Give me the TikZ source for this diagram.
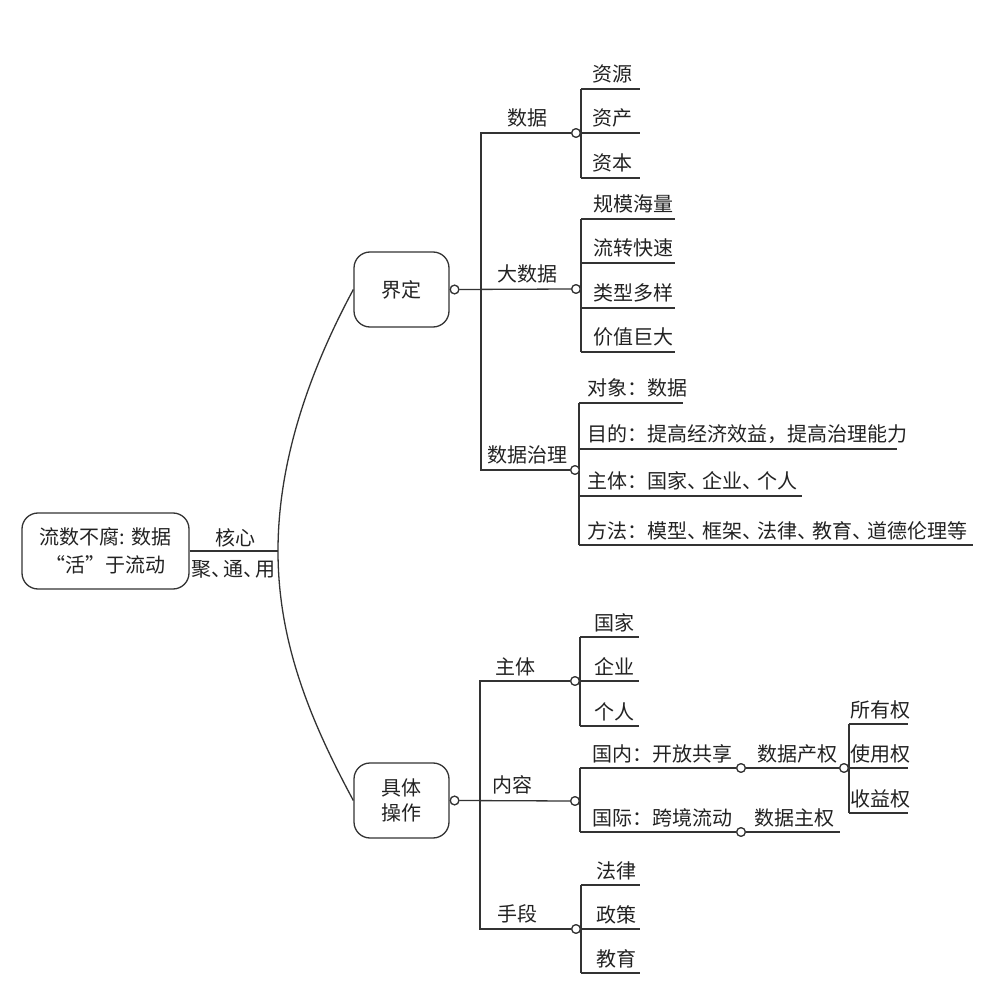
\documentclass[tikz,border=0pt]{standalone}
\usepackage{fontspec}
\setmainfont{Noto Sans CJK SC}
\definecolor{ink}{HTML}{333333}
\definecolor{txt}{HTML}{222222}
\newcommand{\dun}{、\kern-5pt}
\begin{document}
\begin{tikzpicture}[x=1pt,y=-1pt,
  ln/.style={draw=ink,line width=1.3pt},
  dot/.style={circle,draw=ink,line width=1.2pt,fill=white,inner sep=0pt,minimum size=8.6pt},
  lbl/.style={anchor=base west,inner sep=0pt,text=txt,font=\fontsize{20}{24}\selectfont},
  clbl/.style={anchor=base,inner sep=0pt,text=txt,font=\fontsize{20}{24}\selectfont},
  box/.style={draw=ink,line width=1.3pt,rounded corners=16pt,align=center,text=txt,inner sep=0pt}
]
\useasboundingbox (0,0) rectangle (997,984);

% main boxes
\node[box,minimum width=167pt,minimum height=76pt,font=\fontsize{20}{28}\selectfont] (root) at (105.5,551) {流数不腐: 数据\\“活”于流动};
\node[box,minimum width=95pt,minimum height=75pt,font=\fontsize{20}{24}\selectfont] (jd) at (401.5,289.5) {界定};
\node[box,minimum width=95pt,minimum height=75pt,font=\fontsize{20}{25}\selectfont] (jt) at (401.5,800.5) {具体\\操作};

% hub and curve
\coordinate (hub) at (278,551);
\draw[ln] (root.east) -- (hub);
\draw[ln] (jd.west) .. controls (310,370) and (278,460) .. (hub)
          .. controls (278,642) and (310,720) .. (jt.west);
\node[clbl] (hx) at (235,545) {核心};
\node[clbl] (ty) at (233,576) {聚、\kern-8pt 通、\kern-8pt 用};

% circles
\node[dot,anchor=west] (cjd) at (jd.east) {};
\node[dot,anchor=west] (cjt) at (jt.east) {};
\node[dot] (csj) at (576,133) {};
\node[dot] (cdsj) at (576,289) {};
\node[dot] (czl) at (575,470) {};
\node[dot] (czt) at (575,681) {};
\node[dot] (cnr) at (575,801) {};
\node[dot] (csd) at (576,929) {};
\node[dot] (cgn) at (741,768) {};
\node[dot] (cgj) at (741,832) {};
\node[dot] (ccq) at (844,768) {};

% upper trunk
\coordinate (ut1) at (481,133);
\coordinate (ut2) at (481,470);
\draw[ln] (csj.west) -- (ut1) -- (ut2) -- (czl.west);
\draw[ln] (cjd.east) -- (cdsj.west);
\node[clbl] (lsj) at (527,126) {数据};
\node[clbl] (ldsj) at (527,282) {大数据};
\node[clbl] (lzl) at (527,463) {数据治理};

% lower trunk
\coordinate (lt1) at (480,681);
\coordinate (lt2) at (480,929);
\draw[ln] (czt.west) -- (lt1) -- (lt2) -- (csd.west);
\draw[ln] (cjt.east) -- (cnr.west);
\node[clbl] (lzt) at (515,674) {主体};
\node[clbl] (lnr) at (512,792) {内容};
\node[clbl] (lsd) at (517,921) {手段};

% leaves
\foreach \id/\bx/\y/\ex/\lx/\t in {
  a1/581/89/640/592/{资源}, a2/581/133/640/592/{资产}, a3/581/178/640/592/{资本},
  b1/581/219/675/593/{规模海量}, b2/581/263/675/593/{流转快速}, b3/581/308/675/593/{类型多样}, b4/581/352/675/593/{价值巨大},
  c1/579/403/683/587/{对象：数据}, c2/579/449/897/587/{目的：提高经济效益，提高治理能力},
  c3/579/496/802/587/{主体：国家\dun 企业\dun 个人}, c4/579/545/973/587/{方法：模型\dun 框架\dun 法律\dun 教育\dun 道德伦理等},
  d1/580/637/639/594/{国家}, d2/580/681/639/594/{企业}, d3/580/726/639/594/{个人},
  f1/849/724/908/850/{所有权}, f2/849/768/908/850/{使用权}, f3/849/813/908/850/{收益权},
  g1/581/885/640/596/{法律}, g2/581/929/640/596/{政策}, g3/581/973/640/596/{教育}} {
  \coordinate (\id s) at (\bx,\y);
  \coordinate (\id e) at (\ex,\y);
  \draw[ln] (\id s) -- (\id e);
  \node[lbl] (\id t) at (\lx,\y-7) {\t};
}
% bracket verticals
\draw[ln] (a1s) -- (a3s);
\draw[ln] (b1s) -- (b4s);
\draw[ln] (c1s) -- (c4s);
\draw[ln] (d1s) -- (d3s);
\draw[ln] (f1s) -- (f3s);
\draw[ln] (g1s) -- (g3s);

% content branch
\coordinate (e1s) at (580,768);
\coordinate (e2s) at (580,832);
\coordinate (e2e) at (840,832);
\draw[ln] (e1s) -- (e2s);
\draw[ln] (e1s) -- (cgn.west);
\draw[ln] (cgn.east) -- (ccq.west);
\draw[ln] (e2s) -- (cgj.west);
\draw[ln] (cgj.east) -- (e2e);
\node[lbl] (e1t) at (592,761) {国内：开放共享};
\node[lbl] (e1u) at (757,761) {数据产权};
\node[lbl] (e2t) at (592,825) {国际：跨境流动};
\node[lbl] (e2u) at (754,825) {数据主权};

% re-draw dots on top
\foreach \c in {cjd,cjt,csj,cdsj,czl,czt,cnr,csd,cgn,cgj,ccq} {
  \draw[ink,line width=1.2pt,fill=white] (\c.center) circle (4.3pt);
}
\end{tikzpicture}
\end{document}
